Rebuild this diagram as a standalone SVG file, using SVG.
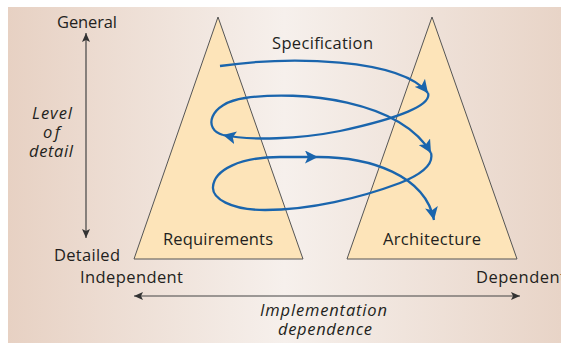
<svg xmlns="http://www.w3.org/2000/svg" width="561" height="343" viewBox="0 0 561 343">
<defs>
<linearGradient id="bg" x1="0" y1="0" x2="1" y2="0">
<stop offset="0" stop-color="#e7d1c3"/>
<stop offset="0.5" stop-color="#f6f0ec"/>
<stop offset="1" stop-color="#e8d4c7"/>
</linearGradient>
<marker id="ab" markerUnits="userSpaceOnUse" markerWidth="14" markerHeight="13" refX="13" refY="6.5" orient="auto">
<path d="M0,0 L13,6.5 L0,13 L3,6.5 z" fill="#1a65ad"/>
</marker>
<marker id="ag" markerUnits="userSpaceOnUse" markerWidth="10" markerHeight="8" refX="9" refY="4" orient="auto">
<path d="M0,0 L9,4 L0,8 L2,4 z" fill="#333"/>
</marker>
<style>
.t{font-family:"Open Sans","Noto Sans","Liberation Sans",sans-serif;font-size:16.5px;fill:#231f20}
.i{font-style:italic}
.tri{fill:#fde4b9;stroke:#555;stroke-width:1}
.sp{fill:none;stroke:#1a65ad;stroke-width:2.3}
.ax{fill:none;stroke:#444;stroke-width:1.2}
</style>
</defs>
<rect x="8" y="7" width="553" height="336" fill="url(#bg)"/>
<g id="requirements">
<polygon class="tri" points="218,17 134,259 303,259"/>
<text class="t" x="163" y="245" textLength="110">Requirements</text>
</g>
<g id="architecture">
<polygon class="tri" points="432,17 347,259 517,259"/>
<text class="t" x="383" y="245" textLength="98">Architecture</text>
</g>
<g id="connectors">
<path class="sp" d="M220,66 C290,56 400,58 428,93" marker-end="url(#ab)"/>
<path class="sp" d="M428,93 C432,105 400,118 340,131 C300,139 250,141 223,135" marker-end="url(#ab)"/>
<path class="sp" d="M223,135 C203,130 208,103 245,98 C300,90 400,100 431,153" marker-end="url(#ab)"/>
<path class="sp" d="M431,153 C434,165 420,175 400,183 C360,198 310,210 265,210 C230,210 212,198 213,187 C214,170 240,157 280,157 L318,157" marker-end="url(#ab)"/>
<path class="sp" d="M318,157 C370,157 425,175 434,220" marker-end="url(#ab)"/>
<path class="ax" d="M86,130 L86,33" marker-end="url(#ag)"/>
<path class="ax" d="M86,130 L86,238" marker-end="url(#ag)"/>
<path class="ax" d="M320,296 L134,296" marker-end="url(#ag)"/>
<path class="ax" d="M320,296 L520,296" marker-end="url(#ag)"/>
</g>
<g id="labels">
<text class="t" x="57" y="28" textLength="60">General</text>
<text class="t i" x="32" y="119" textLength="40">Level</text>
<text class="t i" x="43" y="138" textLength="17">of</text>
<text class="t i" x="29" y="157" textLength="44">detail</text>
<text class="t" x="54" y="261" textLength="66">Detailed</text>
<text class="t" x="272" y="49" textLength="101">Specification</text>
<text class="t" x="80" y="283" textLength="103">Independent</text>
<text class="t" x="476" y="283" textLength="90">Dependent</text>
<text class="t i" x="260" y="316" textLength="127">Implementation</text>
<text class="t i" x="278" y="335" textLength="94">dependence</text>
</g>
</svg>
